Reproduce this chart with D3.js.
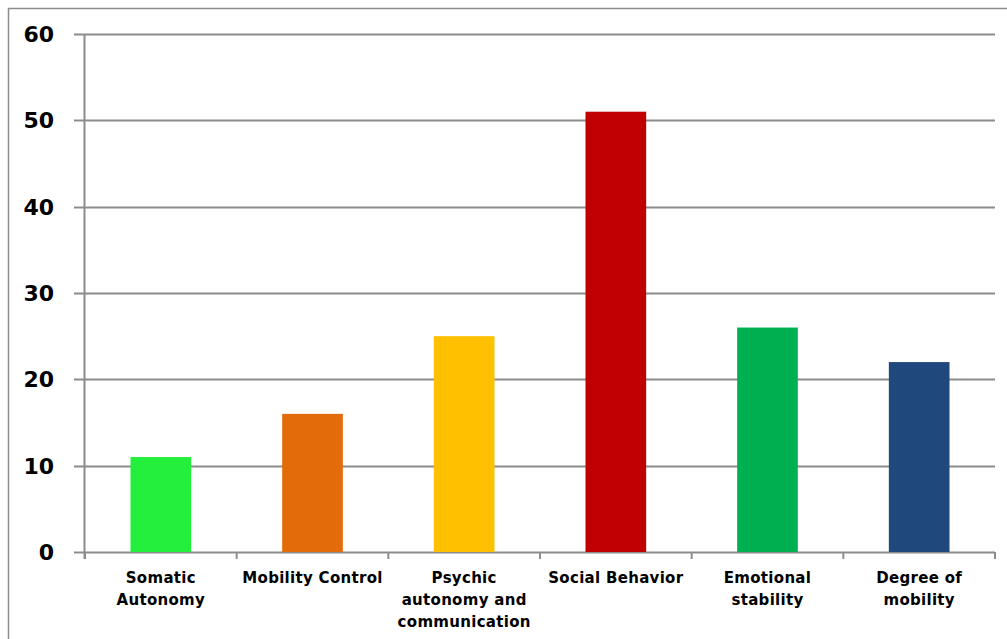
<!DOCTYPE html>
<html>
<head>
<meta charset="utf-8">
<script src="https://cdn.jsdelivr.net/npm/d3@7"></script>
<style>
  body { margin: 0; background: #fff; }
  svg { display: block; }
</style>
</head>
<body>
<div id="chart"></div>
<script>
// Data
const categories = [
  'Somatic Autonomy',
  'Mobility Control',
  'Psychic autonomy and communication',
  'Social Behavior',
  'Emotional stability',
  'Degree of mobility'
]
const labelLines = [
  ['Somatic', 'Autonomy'],
  ['Mobility Control'],
  ['Psychic', 'autonomy and', 'communication'],
  ['Social Behavior'],
  ['Emotional', 'stability'],
  ['Degree of', 'mobility']
]
const values = [11, 16, 25, 51, 26, 22]
const barColors = ['#23ef3c', '#e36c0a', '#ffc000', '#c00000', '#00b050', '#1f497d']
const yTicks = [0, 10, 20, 30, 40, 50, 60]

// Dimensions
const dims = { width: 1007, height: 639, left: 85, right: 995, top: 34, bottom: 552 }

const svg = d3.select('#chart')
  .append('svg')
  .attr('width', dims.width)
  .attr('height', dims.height)

// outer frame (only top and left visible)
svg.append('path')
  .attr('d', `M8.5,${dims.height} V8.5 H${dims.width}`)
  .attr('fill', 'none')
  .attr('stroke', '#8c8c8c')
  .attr('stroke-width', 1.5)

// Scales
const x = d3.scaleBand()
  .domain(categories)
  .range([dims.left, dims.right])
  .paddingInner(0.6)
  .paddingOuter(0.3)

const y = d3.scaleLinear()
  .domain([0, 60])
  .range([dims.bottom, dims.top])

// gridlines
svg.append('g')
  .selectAll('line')
  .data(yTicks)
  .join('line')
  .attr('x1', dims.left - 11)
  .attr('x2', dims.right)
  .attr('y1', d => Math.round(y(d)) + 0.5)
  .attr('y2', d => Math.round(y(d)) + 0.5)
  .attr('stroke', '#8c8c8c')
  .attr('stroke-width', 2)

// y axis line
svg.append('line')
  .attr('x1', dims.left - 0.5).attr('x2', dims.left - 0.5)
  .attr('y1', dims.top).attr('y2', dims.bottom + 7)
  .attr('stroke', '#8c8c8c')
  .attr('stroke-width', 2)

// y tick labels
svg.append('g')
  .selectAll('text')
  .data(yTicks)
  .join('text')
  .attr('x', 54)
  .attr('y', d => y(d))
  .attr('dy', '0.36em')
  .attr('text-anchor', 'end')
  .style('font-family', '"DejaVu Sans", Verdana, sans-serif')
  .style('font-weight', 'bold')
  .style('font-size', '22px')
  .attr('fill', '#000')
  .text(d => d)

// Bars
svg.append('g')
  .selectAll('rect')
  .data(values)
  .join('rect')
  .attr('x', (d, i) => x(categories[i]))
  .attr('width', x.bandwidth())
  .attr('y', d => y(d))
  .attr('height', d => y(0) - y(d))
  .attr('fill', (d, i) => barColors[i])

// category boundary ticks
const boundaries = d3.range(categories.length + 1).map(i => dims.left + (dims.right - dims.left) * i / categories.length)
svg.append('g')
  .selectAll('line')
  .data(boundaries)
  .join('line')
  .attr('x1', d => d).attr('x2', d => d)
  .attr('y1', dims.bottom).attr('y2', dims.bottom + 7)
  .attr('stroke', '#8c8c8c')
  .attr('stroke-width', 2)

// x labels
const labels = svg.append('g')
  .selectAll('text')
  .data(categories)
  .join('text')
  .attr('text-anchor', 'middle')
  .attr('transform', d => `translate(${x(d) + x.bandwidth() / 2}, 583)`)
  .style('font-family', '"DejaVu Sans", Verdana, sans-serif')
  .style('font-weight', 'bold')
  .style('font-size', '15px')
  .style('letter-spacing', '0.3px')
  .attr('fill', '#000')

labels.selectAll('tspan')
  .data((d, i) => labelLines[i])
  .join('tspan')
  .attr('x', 0)
  .attr('y', (d, i) => i * 22)
  .text(d => d)
</script>
</body>
</html>
